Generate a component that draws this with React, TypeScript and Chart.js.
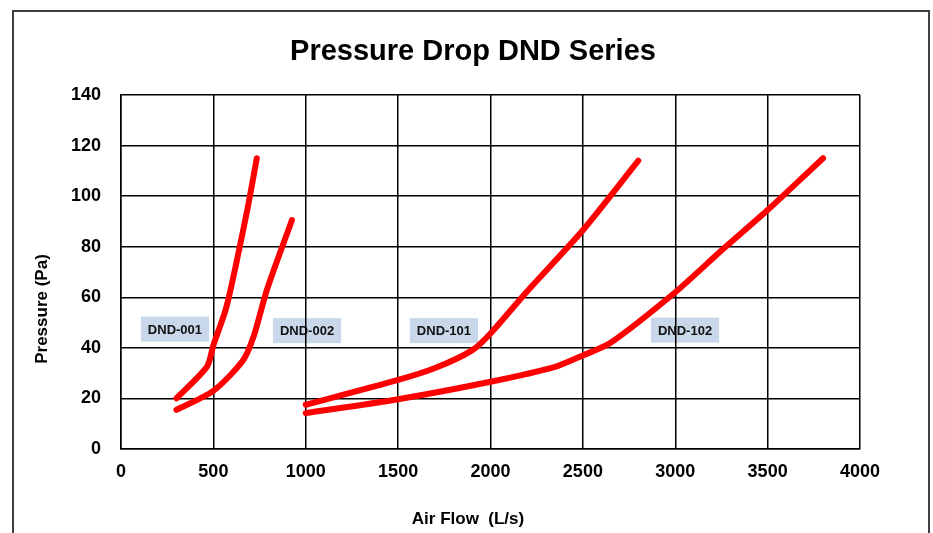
import React, { useEffect, useRef } from "react";
import { Chart, registerables } from "chart.js";
Chart.register(...registerables);

const titleText = "Pressure Drop DND Series";
const xAxisTitle = "Air Flow  (L/s)";
const yAxisTitle = "Pressure (Pa)";

const seriesNames = ["DND-001", "DND-002", "DND-101", "DND-102"];

const dnd001Flow = [300, 465, 500, 570, 640, 690, 735];
const dnd001Pressure = [20, 32.5, 41, 56, 79, 97, 115];

const dnd002Flow = [300, 500, 660, 720, 790, 925];
const dnd002Pressure = [15.5, 23, 35, 45, 63, 90.5];

const dnd101Flow = [1000, 1500, 1700, 1900, 2000, 2200, 2500, 2800];
const dnd101Pressure = [17.5, 27.3, 32, 39, 45.7, 62.5, 86.5, 114];

const dnd102Flow = [1000, 1500, 2000, 2350, 2500, 2650, 3000, 3250, 3500, 3800];
const dnd102Pressure = [14.2, 19.7, 26.6, 32.5, 37, 42, 62, 78.5, 94.5, 115];

const xTickValues = [0, 500, 1000, 1500, 2000, 2500, 3000, 3500, 4000];
const yTickValues = [0, 20, 40, 60, 80, 100, 120, 140];

const labelFlow = [292, 1007, 1748, 3053];
const labelPressure = [47.4, 46.8, 46.8, 47];

const FONT = "'Liberation Sans', Arial, sans-serif";

function toPoints(xs: number[], ys: number[]) {
  return xs.map((x, i) => ({ x, y: ys[i] }));
}

const decorPlugin = {
  id: "decor",
  beforeDraw(chart: any) {
    const ctx = chart.ctx;
    const xs = chart.scales.x;
    const ys = chart.scales.y;
    ctx.save();
    ctx.fillStyle = "#ffffff";
    ctx.fillRect(0, 0, chart.width, chart.height);
    ctx.strokeStyle = "#404040";
    ctx.lineWidth = 2;
    ctx.strokeRect(13, 11, 916, 560);
    ctx.font = `bold 13px ${FONT}`;
    ctx.textAlign = "center";
    ctx.textBaseline = "middle";
    seriesNames.forEach((name, i) => {
      const cx = xs.getPixelForValue(labelFlow[i]);
      const cy = ys.getPixelForValue(labelPressure[i]);
      const w = ctx.measureText(name).width + 14;
      const h = 25;
      ctx.fillStyle = "#c8d7ea";
      ctx.fillRect(cx - w / 2, cy - h / 2, w, h);
      ctx.fillStyle = "#111111";
      ctx.fillText(name, cx, cy + 1);
    });
    ctx.restore();
  },
  afterDraw(chart: any) {
    const ctx = chart.ctx;
    ctx.save();
    ctx.fillStyle = "#000000";
    ctx.textAlign = "center";
    ctx.textBaseline = "middle";
    ctx.font = `bold 29px ${FONT}`;
    ctx.fillText(titleText, 473, 52);
    ctx.font = `bold 17px ${FONT}`;
    ctx.fillText(xAxisTitle, 468, 519);
    ctx.translate(42, 309);
    ctx.rotate(-Math.PI / 2);
    ctx.fillText(yAxisTitle, 0, 0);
    ctx.restore();
  },
};

export default function App() {
  const ref = useRef<HTMLCanvasElement | null>(null);
  useEffect(() => {
    document.body.style.margin = "0";
    const canvas = ref.current;
    if (!canvas) return;
    const mk = (xs: number[], ys: number[], label: string) => ({
      label,
      data: toPoints(xs, ys),
      borderColor: "#ff0000",
      backgroundColor: "#ff0000",
      borderWidth: 6,
      borderCapStyle: "round",
      borderJoinStyle: "round",
      pointRadius: 0,
      tension: 0.25,
      showLine: true,
      fill: false,
    });
    const tickFont = { family: FONT, size: 18, weight: "bold" };
    const chart = new Chart(canvas, {
      type: "scatter",
      data: {
        datasets: [
          mk(dnd001Flow, dnd001Pressure, seriesNames[0]),
          mk(dnd002Flow, dnd002Pressure, seriesNames[1]),
          mk(dnd101Flow, dnd101Pressure, seriesNames[2]),
          mk(dnd102Flow, dnd102Pressure, seriesNames[3]),
        ] as any,
      },
      options: {
        animation: false,
        responsive: false,
        maintainAspectRatio: false,
        layout: { padding: { left: 0, right: 73, top: 95, bottom: 0 } },
        plugins: {
          legend: { display: false },
          title: { display: false },
          tooltip: { enabled: false },
        },
        scales: {
          x: {
            type: "linear",
            min: 0,
            max: 4000,
            afterBuildTicks: (s: any) => {
              s.ticks = xTickValues.map((v) => ({ value: v }));
            },
            afterFit: (s: any) => {
              s.height = 84;
            },
            grid: { color: "#000000", lineWidth: 1.5, drawTicks: false },
            border: { color: "#000000", width: 1.5 },
            ticks: {
              color: "#000000",
              font: tickFont,
              padding: 12,
              maxRotation: 0,
              autoSkip: false,
              callback: (v: any) => String(v),
            },
          },
          y: {
            type: "linear",
            min: 0,
            max: 140,
            afterBuildTicks: (s: any) => {
              s.ticks = yTickValues.map((v) => ({ value: v }));
            },
            afterFit: (s: any) => {
              s.width = 121;
            },
            grid: { color: "#000000", lineWidth: 1.5, drawTicks: false },
            border: { color: "#000000", width: 1.5 },
            ticks: {
              color: "#000000",
              font: tickFont,
              padding: 20,
              autoSkip: false,
              callback: (v: any) => String(v),
            },
          },
        },
      },
      plugins: [decorPlugin],
    } as any);
    return () => chart.destroy();
  }, []);
  return <canvas ref={ref} width={933} height={533} style={{ display: "block" }} />;
}
